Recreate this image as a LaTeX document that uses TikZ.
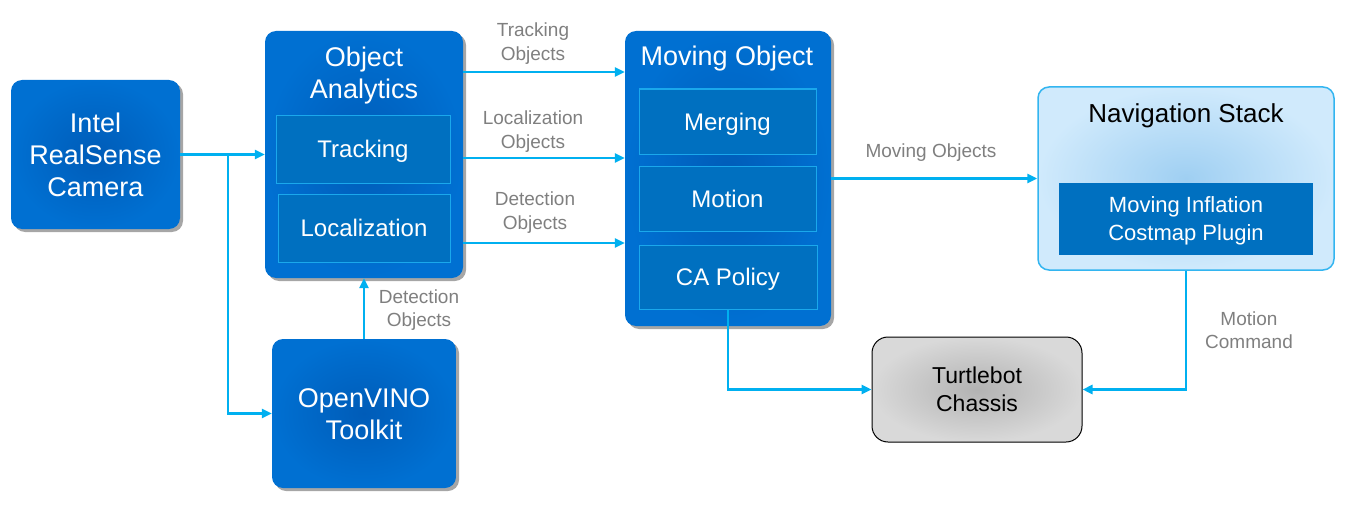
\documentclass[tikz,border=0pt]{standalone}
\usepackage{fontspec}
\setmainfont{Liberation Sans}
\usetikzlibrary{shadows,arrows.meta,calc}
\definecolor{boxc}{HTML}{0070D2}
\definecolor{boxin}{HTML}{005CB8}
\definecolor{innerc}{HTML}{0070C0}
\definecolor{innerb}{HTML}{1AA8EC}
\definecolor{arrc}{HTML}{00B0F0}
\definecolor{labc}{HTML}{7F7F7F}
\definecolor{navo}{HTML}{D0EAFC}
\definecolor{navi}{HTML}{9FCFF2}
\definecolor{navb}{HTML}{33B5F0}
\begin{document}
\begin{tikzpicture}[x=1pt,y=-1pt,
  bigbox/.style={rectangle,rounded corners=11pt,inner sep=0pt,inner color=boxin,outer color=boxc,
    drop shadow={shadow xshift=3pt,shadow yshift=-3pt,fill=black,opacity=0.35}},
  innerbox/.style={rectangle,inner sep=0pt,fill=innerc,draw=innerb,line width=1pt,text=white,
    font=\fontsize{24}{28}\selectfont,align=center,text depth=0pt},
  title/.style={text=white,font=\fontsize{27}{32}\selectfont,align=center,inner sep=0pt,text depth=0pt},
  lab/.style={text=labc,font=\fontsize{19}{23.5}\selectfont,align=center,inner sep=0pt,text depth=0pt},
  conn/.style={draw=arrc,line width=2.6pt,-{Triangle[length=10pt,width=9pt]}}
]
\useasboundingbox (0,0) rectangle (1355,511);

% Camera
\node[bigbox,minimum width=169pt,minimum height=149pt] (cam) at (95.5,154.5) {};
\node[title] (camt) at (95.5,155) {Intel\\RealSense\\Camera};

% Object Analytics
\node[bigbox,minimum width=198pt,minimum height=247pt] (OA) at (364,154.5) {};
\node[title] (OAt) at (364,73) {Object\\Analytics};
\node[innerbox,minimum width=174pt,minimum height=68pt] (trk) at (363,149) {Tracking};
\node[innerbox,minimum width=172pt,minimum height=68pt] (loc) at (364,228) {Localization};

% OpenVINO
\node[bigbox,minimum width=184pt,minimum height=149pt] (ov) at (364,413.5) {};
\node[title] (ovt) at (364,414) {OpenVINO\\Toolkit};

% Moving Object
\node[bigbox,minimum width=206pt,minimum height=295pt] (MO) at (728,178.5) {};
\node[title] (MOt) at (727,56) {Moving Object};
\node[innerbox,minimum width=177pt,minimum height=65pt] (mer) at (727.5,121.5) {Merging};
\node[innerbox,minimum width=177pt,minimum height=65pt] (mot) at (727.5,198.5) {Motion};
\node[innerbox,minimum width=178pt,minimum height=64pt] (ca) at (728,277) {CA Policy};

% Navigation stack
\node[rectangle,rounded corners=11pt,inner sep=0pt,inner color=navi,outer color=navo,draw=navb,line width=1.5pt,
  minimum width=296pt,minimum height=183pt] (nav) at (1186,178.5) {};
\node[inner sep=0pt,font=\fontsize{26}{30}\selectfont,text depth=0pt] (navt) at (1186,113) {Navigation Stack};
\node[innerbox,minimum width=254pt,minimum height=72pt,font=\fontsize{22}{28}\selectfont,draw=none] (plug) at (1186,219) {Moving Inflation\\Costmap Plugin};

% Turtlebot
\node[rectangle,rounded corners=16pt,inner sep=0pt,inner color=black!30,outer color=black!15,draw=black,line width=1pt,
  minimum width=210pt,minimum height=105pt,font=\fontsize{23}{28}\selectfont,align=center,text depth=0pt] (tb) at (977,389.5) {Turtlebot\\Chassis};

% Connectors
\coordinate (br) at (228,154.5);
\draw[conn] (cam.east) -- (cam.east -| OA.west);
\draw[conn] (br) |- (ov.west);
\draw[conn] ([yshift=82.5pt]OA.east) -- ([yshift=82.5pt]OA.east -| MO.west);
\draw[conn] ([yshift=-3.5pt]OA.east) -- ([yshift=-3.5pt]OA.east -| MO.west);
\draw[conn] ([yshift=-88.5pt]OA.east) -- ([yshift=-88.5pt]OA.east -| MO.west);
\draw[conn] (ov.north) -- (ov.north |- OA.south);
\draw[conn] (MO.east) -- (MO.east -| nav.west);
\draw[conn] (ca.south) |- (tb.west);
\draw[conn] (nav.south) |- (tb.east);

% Labels
\node[lab] (l1) at (533,41.5) {Tracking\\Objects};
\node[lab] (l2) at (533,129.5) {Localization\\Objects};
\node[lab] (l3) at (535,210.5) {Detection\\Objects};
\node[lab] (l4) at (419,308) {Detection\\Objects};
\node[lab] (l5) at (931,151) {Moving Objects};
\node[lab] (l6) at (1249,330) {Motion\\Command};
\end{tikzpicture}
\end{document}
